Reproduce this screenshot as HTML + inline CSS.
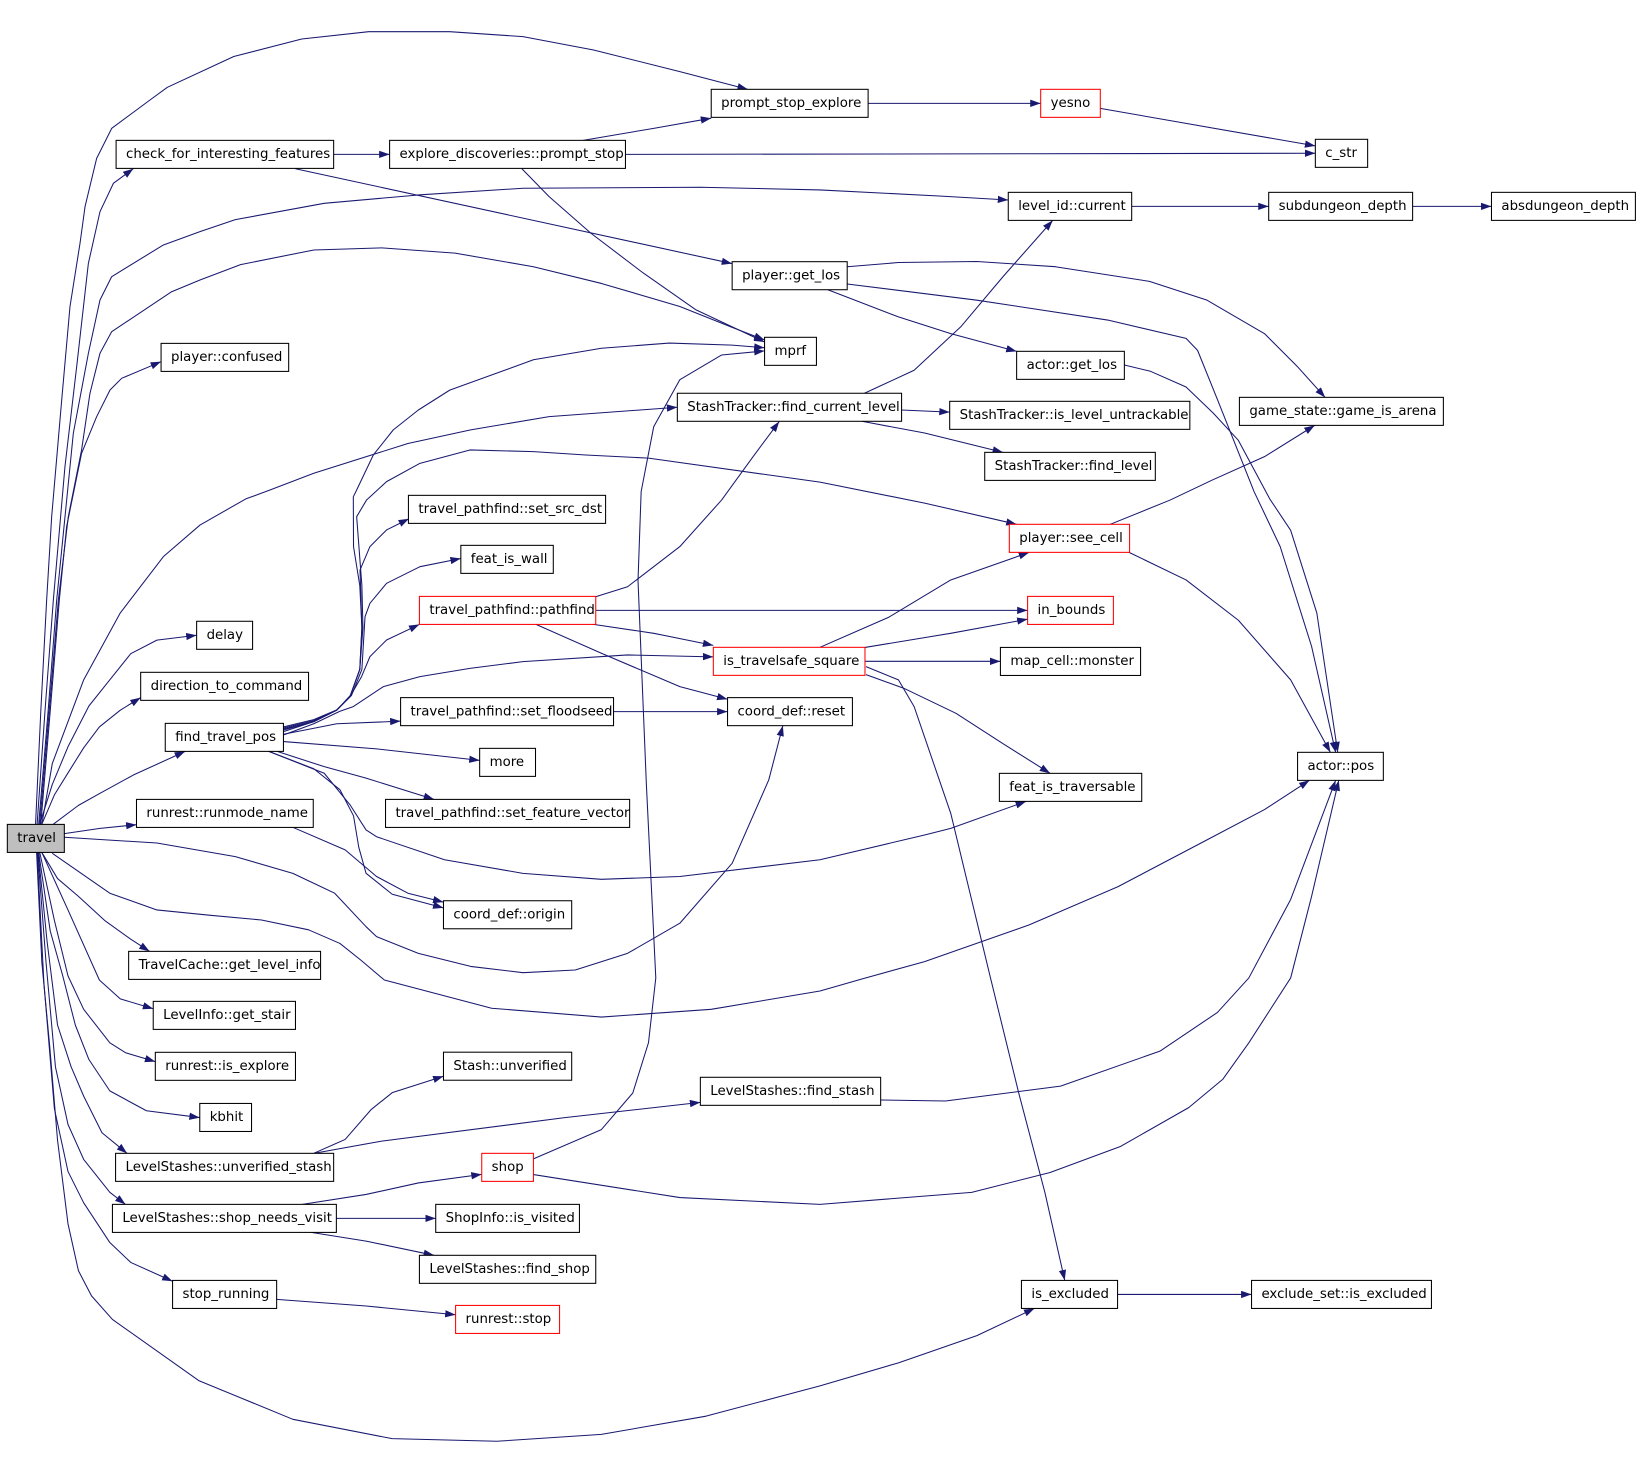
<!DOCTYPE html>
<html><head><meta charset="utf-8"><style>
html,body{margin:0;padding:0;background:#fff}
svg{display:block}
text{font-family:"DejaVu Sans","Liberation Sans",sans-serif;font-size:12.75px;fill:#000}
.n{fill:#fff;stroke:#000;stroke-width:1}
.r{fill:#fff;stroke:#f00;stroke-width:1}
.e{fill:none;stroke:#191970;stroke-width:1;stroke-linejoin:round;marker-end:url(#a)}
</style></head><body>
<svg width="1640" height="1476" viewBox="0 0 1568 1411.2" xmlns="http://www.w3.org/2000/svg">
<defs><marker id="a" markerUnits="userSpaceOnUse" markerWidth="11" markerHeight="8" refX="10" refY="3.5" orient="auto"><path d="M0,0 L10,3.5 L0,7 z" fill="#191970"/></marker></defs>
<rect x="0" y="0" width="1568" height="1411.2" fill="#fff"/>
<g>
<polyline class="e" points="34,788 39,680 44.6,573.7 49.4,494 59,382.4 66.9,293.2 76.5,232.6 81.3,197.6 92.4,151.4 106.8,122.7 143.4,95.6 160,83.5 223.5,54 288.5,37.3 352.5,30.3 430,30.3 500,35 567.5,47.8 650,68.5 715,85.4"/>
<polyline class="e" points="35.5,788 43,680 51,573.7 62.1,446.2 73.3,350.6 84.5,251.8 95.6,202.4 108.4,175.3 127.5,161.2"/>
<polyline class="e" points="37,788 46,680 54.2,573.7 70.1,414.3 84.5,337.8 95.6,286.8 106.8,264.5 156.2,234.2 191.2,221.5 225,210 310,194.4 400,186.4 500,180 670,179 784,181.6 900,187.5 964,191.2"/>
<polyline class="e" points="38,788 47,680 55.8,573.7 65.3,494 78,430.2 86,376.1 95.6,337.8 106.8,317.1 164.1,278.9 191.2,267.7 230,253 300,239 365,237 435,242 510,255 575,271 650,293 700,313 731,325"/>
<polyline class="e" points="39,788 48,680 56.7,573.7 63.7,503.5 78,433.4 92.4,398.4 105.2,372.9 116.3,361.7 154,345.8"/>
<polyline class="e" points="40,788 50,730 80,650 115,586 156.2,532.2 191.2,502 235,477 258.1,468.5 300,452.5 390,424 450,411 525,398.3 647.6,389.4"/>
<polyline class="e" points="38,788 50,750 65,714 85,675 105,650 125,625 150,612 188,607.4"/>
<polyline class="e" points="40,788 52,760 65,739 80,715 95,695 115,679 134.5,667"/>
<polyline class="e" points="51,788 75,770 95.6,758.5 127.5,741 177,718.4"/>
<polyline class="e" points="61.5,797 95.6,792 130.5,788.5"/>
<polyline class="e" points="61.5,800.5 150,806 225,819 280,835 320,854 350,886 360,895.5 400,911.5 450,924 500,930 550,927.4 600,911.5 650,882.7 700,825.4 735,745.7 748.5,693.8"/>
<polyline class="e" points="50,815.8 105,854 150,870 200,875 250,879.6 295,889 325,902 345,918 367.5,937 470,964 575,972.4 680,965 784,947.5 824,936 884,919.4 984,884.3 1069,847.7 1154,803 1209,774 1252,746"/>
<polyline class="e" points="40,815 55,840 75,857 100,880 125,898 143,909.6"/>
<polyline class="e" points="40,815 65,870 95,937 115,955 146.5,964.5"/>
<polyline class="e" points="38,815 52,880 65,933 80,965 105,997 120,1006.5 148.5,1015"/>
<polyline class="e" points="37,815 48,890 60,933 72,980 85,1013 105,1043 140,1062 191,1068.5"/>
<polyline class="e" points="36.5,815 45,900 55,980 68,1020 80,1048 97.5,1083 121.5,1102.7"/>
<polyline class="e" points="36,815 44,920 53,1020 65,1075 80,1108.5 105,1140 120,1151.5"/>
<polyline class="e" points="35.5,815 42,940 52,1060 65,1120 80,1150 105,1188 125,1207 165,1225"/>
<polyline class="e" points="35,815 40,920 47.5,1000 55,1090 65,1170 75,1215 87.5,1239 107.5,1261.5 190,1320 280,1357 375,1375.5 475,1378 575,1371.4 675,1354 784,1325 859,1303 934,1277 989,1251"/>
<polyline class="e" points="319,147.6 372.5,147.6"/>
<polyline class="e" points="282.5,161.3 700,252"/>
<polyline class="e" points="557.5,134.2 625,122.7 680,113"/>
<polyline class="e" points="598,147.6 984,147 1257.6,146.5"/>
<polyline class="e" points="499,161.3 525,188 565,223 615,261 665,296 731,327"/>
<polyline class="e" points="830,98.8 995,98.8"/>
<polyline class="e" points="1052,103.6 1134,118 1257.6,139.5"/>
<polyline class="e" points="1082,197.3 1213,197.3"/>
<polyline class="e" points="1350.6,197.3 1426,197.3"/>
<polyline class="e" points="810,255 859,251 934,250 1009,255 1099,269 1154,287 1209,319 1240,350 1267,380"/>
<polyline class="e" points="810,271.5 934,287 1059,306 1134,323.5 1145,335 1164,382 1199,470 1224,522.6 1254,618 1277,719.3"/>
<polyline class="e" points="791.5,277 859,303 909,319 972,336"/>
<polyline class="e" points="1075,349 1100,355 1134,370 1160,395 1184,421 1214,477 1234,507 1259,586 1279,719.3"/>
<polyline class="e" points="826.5,376 874,354 919,312 959,264.5 1006.5,210.7"/>
<polyline class="e" points="862,392 908,394"/>
<polyline class="e" points="824,402.8 884,414 959,432.5"/>
<polyline class="e" points="271,697 300,690 322,679 335,665 344,640 346,600 344.2,545 353.7,522.6 369.6,506.7 391,496"/>
<polyline class="e" points="271,698 300,690 322,679 336,665 346,640 349,589.6 353.7,576.8 369.6,557.7 401.5,541.8 440.6,534"/>
<polyline class="e" points="271,699.5 300,690 321.8,678.8 334.6,666.1 345.7,646.9 353.7,627.8 369.6,611.9 401,597"/>
<polyline class="e" points="271,702.7 300,692 325,680 337.8,675.6 366.5,656.5 401.5,646.9 449.3,639 500,632.6 600,626.2 682,628"/>
<polyline class="e" points="271,702 322,692 383,689.5"/>
<polyline class="e" points="271,709 360,716 458.6,727"/>
<polyline class="e" points="265,718.4 310,733 350,744 415,764.3"/>
<polyline class="e" points="257,718.4 300,735 325,755 338,780 343,810 350,835 375,855 424,868"/>
<polyline class="e" points="257,718.4 310,739.3 335,770 350,793.5 360,800 425,822 500,835 575,840.7 650,838 784,822 884,798.3 909,792 981,766.2"/>
<polyline class="e" points="271,695 300,688 321.8,678.8 334.6,666 344,640 346,600 344,560 338,522.6 337.8,475 341,468.5 356.9,435 376,411 400,392 430,373 510,344 575,333 640,328 700,330 731,332.5"/>
<polyline class="e" points="271,696 300,689 322,679 335,665 344,640 347,600 346,560 341,494 350.5,478 369.6,460.5 401.5,443 449.3,430.2 510,431.8 560,435 620,438 784,461 884,481 972,501.3"/>
<polyline class="e" points="280,791 330,812.6 360,838 390,854 424,862.5"/>
<polyline class="e" points="569.5,570.5 600,561 650,522.6 690,478 720,436.6 745,403"/>
<polyline class="e" points="569.6,583.6 982.5,583.6"/>
<polyline class="e" points="565,596.6 625,605.5 682,617"/>
<polyline class="e" points="512.5,597 575,624.6 650,656.5 695.6,668.5"/>
<polyline class="e" points="784,618.9 850,590 909,554.5 984,528.1"/>
<polyline class="e" points="827,619 909,605.5 982.5,592"/>
<polyline class="e" points="827,632.3 956.5,632.3"/>
<polyline class="e" points="828,645 864,658 914,682 959,711 1004,739.4"/>
<polyline class="e" points="828,637.4 859,650 874,675.6 909,777.6 947,935 974,1045 999,1140 1018,1224.2"/>
<polyline class="e" points="1061.5,501.3 1119,478 1159,459 1209,436.6 1257,406.7"/>
<polyline class="e" points="1078,527.4 1134,554.5 1184,593 1234,650 1272,719.3"/>
<polyline class="e" points="586.6,680.4 695.6,680.4"/>
<polyline class="e" points="300,1102.7 330,1089.4 355,1060.7 375,1044.7 424,1029"/>
<polyline class="e" points="300,1102.7 365,1091 540,1068.6 669.6,1054"/>
<polyline class="e" points="842,1051.7 904,1052.7 1014,1038.4 1109,1005 1164,968 1194,935 1234,860 1277,746.1"/>
<polyline class="e" points="510,1108 575,1080 605,1045 620,997 627,935 618,750 610,555 613,470 625,408 650,363 690,339.4 731,335.5"/>
<polyline class="e" points="510,1123 650,1145 784,1151.5 929,1140 1004,1121 1071.5,1096 1136.5,1059 1169,1032 1194,997 1234,935 1254,857 1280,746.1"/>
<polyline class="e" points="289,1151.5 350,1142 400,1131 460.6,1122.8"/>
<polyline class="e" points="321.6,1164.9 416.6,1164.9"/>
<polyline class="e" points="297.5,1178.3 350,1186.6 415,1200.2"/>
<polyline class="e" points="264.5,1242.3 350,1248.7 435.6,1257"/>
<polyline class="e" points="1068.5,1237.6 1196.6,1237.6"/>
</g>
<g>
<rect x="7" y="788.2" width="54.5" height="26.8" fill="#bfbfbf" stroke="#000"/><text x="16.5" y="805.2">travel</text>
<rect class="n" x="680" y="85.4" width="150" height="26.8"/><text x="689.5" y="102.4">prompt_stop_explore</text>
<rect class="r" x="995" y="85.4" width="57" height="26.8"/><text x="1004.5" y="102.4">yesno</text>
<rect class="n" x="1257.6" y="133.2" width="50" height="26.8"/><text x="1267.1" y="150.2">c_str</text>
<rect class="n" x="111" y="134.2" width="208" height="26.8"/><text x="120.5" y="151.2">check_for_interesting_features</text>
<rect class="n" x="372.5" y="134.2" width="225.5" height="26.8"/><text x="382" y="151.2">explore_discoveries::prompt_stop</text>
<rect class="n" x="964" y="183.9" width="118" height="26.8"/><text x="973.5" y="200.9">level_id::current</text>
<rect class="n" x="1213" y="183.9" width="137.6" height="26.8"/><text x="1222.5" y="200.9">subdungeon_depth</text>
<rect class="n" x="1426" y="183.9" width="137.6" height="26.8"/><text x="1435.5" y="200.9">absdungeon_depth</text>
<rect class="n" x="700" y="250.2" width="110" height="26.8"/><text x="709.5" y="267.2">player::get_los</text>
<rect class="n" x="154" y="328.3" width="122" height="26.8"/><text x="163.5" y="345.3">player::confused</text>
<rect class="n" x="731" y="322.5" width="49.6" height="26.8"/><text x="740.5" y="339.5">mprf</text>
<rect class="n" x="972" y="335.9" width="103" height="26.8"/><text x="981.5" y="352.9">actor::get_los</text>
<rect class="n" x="647.6" y="376" width="214.4" height="26.8"/><text x="657.1" y="393">StashTracker::find_current_level</text>
<rect class="n" x="908" y="383.7" width="229.6" height="26.8"/><text x="917.5" y="400.7">StashTracker::is_level_untrackable</text>
<rect class="n" x="1185" y="379.9" width="195" height="26.8"/><text x="1194.5" y="396.9">game_state::game_is_arena</text>
<rect class="n" x="941.5" y="432.5" width="163.1" height="26.8"/><text x="951" y="449.5">StashTracker::find_level</text>
<rect class="n" x="390.5" y="473.6" width="188.5" height="26.8"/><text x="400" y="490.6">travel_pathfind::set_src_dst</text>
<rect class="r" x="965" y="501.3" width="115" height="26.8"/><text x="974.5" y="518.3">player::see_cell</text>
<rect class="n" x="440.6" y="521.4" width="88.4" height="26.8"/><text x="450.1" y="538.4">feat_is_wall</text>
<rect class="r" x="401" y="570.2" width="168.6" height="26.8"/><text x="410.5" y="587.2">travel_pathfind::pathfind</text>
<rect class="r" x="982.5" y="570.2" width="82" height="26.8"/><text x="992" y="587.2">in_bounds</text>
<rect class="n" x="188" y="594" width="53.5" height="26.8"/><text x="197.5" y="611">delay</text>
<rect class="r" x="682" y="618.9" width="145" height="26.8"/><text x="691.5" y="635.9">is_travelsafe_square</text>
<rect class="n" x="956.5" y="619" width="134" height="26.8"/><text x="966" y="636">map_cell::monster</text>
<rect class="n" x="134.5" y="642.8" width="160.5" height="26.8"/><text x="144" y="659.8">direction_to_command</text>
<rect class="n" x="383" y="667" width="203.6" height="26.8"/><text x="392.5" y="684">travel_pathfind::set_floodseed</text>
<rect class="n" x="695.6" y="667" width="119.4" height="26.8"/><text x="705.1" y="684">coord_def::reset</text>
<rect class="n" x="158" y="691.6" width="113" height="26.8"/><text x="167.5" y="708.6">find_travel_pos</text>
<rect class="n" x="458.6" y="715.5" width="53.4" height="26.8"/><text x="468.1" y="732.5">more</text>
<rect class="n" x="1240.6" y="719.3" width="82" height="26.8"/><text x="1250.1" y="736.3">actor::pos</text>
<rect class="n" x="955.5" y="739.4" width="136.1" height="26.8"/><text x="965" y="756.4">feat_is_traversable</text>
<rect class="n" x="130.5" y="764.3" width="169" height="26.8"/><text x="140" y="781.3">runrest::runmode_name</text>
<rect class="n" x="368.6" y="764.3" width="233.4" height="26.8"/><text x="378.1" y="781.3">travel_pathfind::set_feature_vector</text>
<rect class="n" x="424" y="861.2" width="122.6" height="26.8"/><text x="433.5" y="878.2">coord_def::origin</text>
<rect class="n" x="123" y="909.6" width="183.5" height="26.8"/><text x="132.5" y="926.6">TravelCache::get_level_info</text>
<rect class="n" x="146.5" y="957.4" width="136" height="26.8"/><text x="156" y="974.4">LevelInfo::get_stair</text>
<rect class="n" x="148.5" y="1006.1" width="134" height="26.8"/><text x="158" y="1023.1">runrest::is_explore</text>
<rect class="n" x="424" y="1006" width="122.6" height="26.8"/><text x="433.5" y="1023">Stash::unverified</text>
<rect class="n" x="669.6" y="1030" width="172.4" height="26.8"/><text x="679.1" y="1047">LevelStashes::find_stash</text>
<rect class="n" x="191" y="1055" width="49.5" height="26.8"/><text x="200.5" y="1072">kbhit</text>
<rect class="n" x="110.5" y="1102.7" width="208.5" height="26.8"/><text x="120" y="1119.7">LevelStashes::unverified_stash</text>
<rect class="r" x="460.6" y="1102.7" width="49.4" height="26.8"/><text x="470.1" y="1119.7">shop</text>
<rect class="n" x="107.5" y="1151.5" width="214.1" height="26.8"/><text x="117" y="1168.5">LevelStashes::shop_needs_visit</text>
<rect class="n" x="416.6" y="1151.5" width="137.4" height="26.8"/><text x="426.1" y="1168.5">ShopInfo::is_visited</text>
<rect class="n" x="401" y="1200.2" width="168.6" height="26.8"/><text x="410.5" y="1217.2">LevelStashes::find_shop</text>
<rect class="n" x="165" y="1224.2" width="99.5" height="26.8"/><text x="174.5" y="1241.2">stop_running</text>
<rect class="n" x="976.6" y="1224.2" width="91.9" height="26.8"/><text x="986.1" y="1241.2">is_excluded</text>
<rect class="n" x="1196.6" y="1224.2" width="172" height="26.8"/><text x="1206.1" y="1241.2">exclude_set::is_excluded</text>
<rect class="r" x="435.6" y="1248.1" width="99.4" height="26.8"/><text x="445.1" y="1265.1">runrest::stop</text>
</g>
</svg>
</body></html>
